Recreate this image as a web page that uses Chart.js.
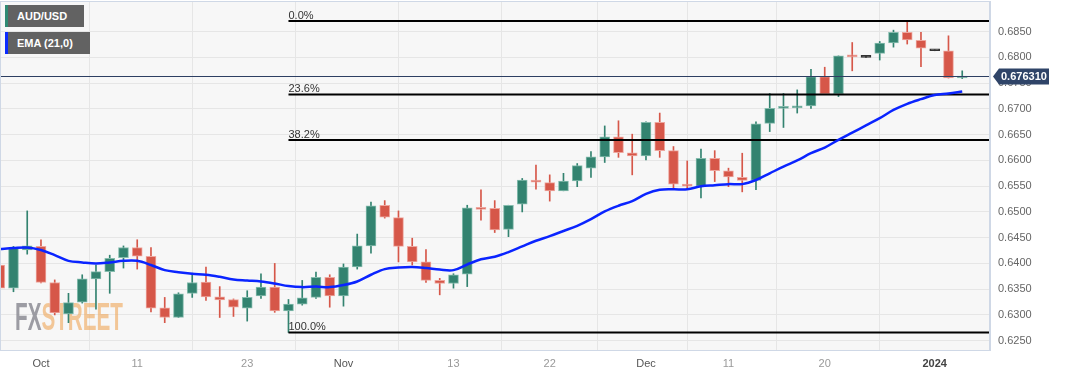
<!DOCTYPE html>
<html>
<head>
<meta charset="utf-8">
<title>AUD/USD daily</title>
<script src="https://cdn.jsdelivr.net/npm/chart.js@4.4.1/dist/chart.umd.min.js"></script>
<style>
  html, body { margin: 0; padding: 0; background: #fff; }
  #wrap { position: relative; width: 1067px; height: 376px; }
  .tag {
    position: absolute; left: 5px; height: 22px;
    background: #626262; color: #fff; box-sizing: border-box; padding-left: 9px;
    font: bold 11px "Liberation Sans", Arial, sans-serif;
    line-height: 22px;
  }
</style>
</head>
<body>
<div id="wrap">
  <canvas id="chart" width="1067" height="376"></canvas>
  <div class="tag" style="top:5px;width:79px;border-left:3px solid #2f8a73">AUD/USD</div>
  <div class="tag" style="top:32px;width:85px;border-left:3px solid #0b2bff">EMA (21,0)</div>
</div>
<script>
// Daily candles, late Sep 2023 -> 3 Jan 2024 (one entry per trading day)
const opens = [
  0.6397, 0.6352, 0.6426, 0.6433, 0.6363, 0.6302, 0.6325, 0.6370, 0.6384, 0.6411,
  0.6431, 0.6414, 0.6314, 0.6295, 0.6342, 0.6364, 0.6335, 0.6330, 0.6313, 0.6337,
  0.6354, 0.6308, 0.6321, 0.6334, 0.6373, 0.6337, 0.6393, 0.6434, 0.6513, 0.6489,
  0.6433, 0.6403, 0.6367, 0.6361, 0.6379, 0.6508, 0.6507, 0.6466, 0.6515, 0.6562,
  0.6557, 0.6541, 0.6560, 0.6585, 0.6607, 0.6646, 0.6615, 0.6609, 0.6674, 0.6619,
  0.6554, 0.6550, 0.6604, 0.6580, 0.6567, 0.6561, 0.6672, 0.6701, 0.6702, 0.6706,
  0.6763, 0.6729, 0.6803, 0.6800, 0.6808, 0.6828, 0.6849, 0.6833, 0.6813, 0.6813,
  0.6760
];
const highs = [
  0.6411, 0.6433, 0.6502, 0.6446, 0.6368, 0.6342, 0.6378, 0.6397, 0.6416, 0.6434,
  0.6446, 0.6431, 0.6334, 0.6343, 0.6381, 0.6393, 0.6355, 0.6331, 0.6347, 0.6380,
  0.6400, 0.6330, 0.6367, 0.6383, 0.6378, 0.6399, 0.6457, 0.6519, 0.6522, 0.6502,
  0.6449, 0.6427, 0.6371, 0.6380, 0.6513, 0.6543, 0.6522, 0.6513, 0.6565, 0.6591,
  0.6572, 0.6575, 0.6594, 0.6617, 0.6667, 0.6677, 0.6651, 0.6675, 0.6692, 0.6627,
  0.6599, 0.6622, 0.6619, 0.6585, 0.6614, 0.6675, 0.6730, 0.6730, 0.6737, 0.6777,
  0.6781, 0.6803, 0.6829, 0.6800, 0.6831, 0.6853, 0.6871, 0.6849, 0.6813, 0.6842,
  0.6774
];
const lows = [
  0.6331, 0.6345, 0.6418, 0.6362, 0.6300, 0.6285, 0.6323, 0.6311, 0.6342, 0.6391,
  0.6389, 0.6306, 0.6285, 0.6295, 0.6334, 0.6328, 0.6295, 0.6297, 0.6288, 0.6332,
  0.6305, 0.6266, 0.6319, 0.6332, 0.6315, 0.6317, 0.6389, 0.6420, 0.6488, 0.6403,
  0.6397, 0.6363, 0.6339, 0.6352, 0.6355, 0.6484, 0.6460, 0.6452, 0.6500, 0.6544,
  0.6521, 0.6541, 0.6549, 0.6567, 0.6596, 0.6606, 0.6572, 0.6601, 0.6606, 0.6544,
  0.6546, 0.6527, 0.6559, 0.6549, 0.6539, 0.6543, 0.6656, 0.6664, 0.6692, 0.6701,
  0.6728, 0.6724, 0.6774, 0.6800, 0.6795, 0.6820, 0.6826, 0.6782, 0.6813, 0.6760,
  0.6759
];
const closes = [
  0.6352, 0.6430, 0.6434, 0.6363, 0.6304, 0.6324, 0.6370, 0.6384, 0.6410, 0.6431,
  0.6414, 0.6313, 0.6295, 0.6341, 0.6363, 0.6335, 0.6329, 0.6315, 0.6334, 0.6354,
  0.6308, 0.6321, 0.6333, 0.6373, 0.6337, 0.6393, 0.6434, 0.6512, 0.6490, 0.6433,
  0.6403, 0.6367, 0.6361, 0.6378, 0.6508, 0.6505, 0.6465, 0.6513, 0.6562, 0.6558,
  0.6541, 0.6560, 0.6590, 0.6607, 0.6646, 0.6615, 0.6609, 0.6674, 0.6619, 0.6554,
  0.6550, 0.6604, 0.6580, 0.6568, 0.6561, 0.6671, 0.6701, 0.6704, 0.6706, 0.6763,
  0.6729, 0.6803, 0.6801, 0.6800, 0.6828, 0.6849, 0.6834, 0.6818, 0.6813, 0.6760,
  0.67631
];
// EMA(21)
const ema21 = [
  0.6428, 0.6430, 0.6431, 0.6426, 0.6416, 0.6405, 0.6402, 0.6400, 0.6402, 0.6405,
  0.6405, 0.6397, 0.6387, 0.6383, 0.6380, 0.6378, 0.6374, 0.6369, 0.6367, 0.6365,
  0.6361, 0.6356, 0.6354, 0.6355, 0.6354, 0.6358, 0.6365, 0.6378, 0.6389, 0.6392,
  0.6393, 0.6391, 0.6388, 0.6387, 0.6398, 0.6408, 0.6413, 0.6422, 0.6433, 0.6444,
  0.6453, 0.6463, 0.6473, 0.6486, 0.6501, 0.6512, 0.6521, 0.6535, 0.6543, 0.6544,
  0.6544, 0.6550, 0.6552, 0.6554, 0.6554, 0.6562, 0.6575, 0.6588, 0.6600, 0.6614,
  0.6625, 0.6640, 0.6654, 0.6668, 0.6682, 0.6698, 0.6710, 0.6719, 0.6727, 0.6730,
  0.6734
];
// x axis labels and the candle they sit under
const tickLabels = ['Oct', '11', '23', 'Nov', '13', '22', 'Dec', '11', '20', '2024'];
const tickIndex  = [3, 10, 18, 25, 33, 40, 47, 53, 60, 68];
const fibRatios  = [0, 0.236, 0.382, 1];
const fibNames   = ['0.0%', '23.6%', '38.2%', '100.0%'];

const X_MIN = 0.02, X_MAX = 72.02;
const Y_MIN = 0.62319, Y_MAX = 0.69096;
const FONT = '"Liberation Sans", Arial, sans-serif';

const UP = '#338370', DOWN = '#d65749', FLAT = '#333333';
const UP_EDGE = '#86bcae', DOWN_EDGE = '#eea79f';

function candleColor(i) {
  if (opens[i] === closes[i]) return FLAT;
  return closes[i] > opens[i] ? UP : DOWN;
}
function edgeColor(i) {
  if (opens[i] === closes[i]) return FLAT;
  return closes[i] > opens[i] ? UP_EDGE : DOWN_EDGE;
}

// Fibonacci retracement between the swing low and the high
const fibHigh = Math.max(...highs);
const fibLow = Math.min(...lows);
const fibStart = lows.indexOf(fibLow);
const fibLevels = fibRatios.map(r => fibHigh - r * (fibHigh - fibLow));
const lastClose = closes[closes.length - 1];

const bgPlugin = {
  id: 'bg',
  beforeDraw(chart) {
    const { ctx, chartArea: a } = chart;
    ctx.save();
    ctx.fillStyle = '#ffffff';
    ctx.fillRect(0, 0, chart.width, chart.height);
    ctx.fillStyle = '#f7f7f7';
    ctx.fillRect(a.left, a.top, a.right - a.left, a.bottom - a.top);
    ctx.restore();
  },
  beforeDatasetsDraw(chart) {
    // FXSTREET watermark
    const { ctx } = chart;
    ctx.save();
    ctx.font = 'bold 39px ' + FONT;
    const w1 = ctx.measureText('FX').width;
    const w2 = ctx.measureText('STREET').width;
    const sx = 108 / (w1 + w2);
    ctx.translate(15, 330);
    ctx.scale(sx, 1);
    ctx.textBaseline = 'alphabetic';
    ctx.fillStyle = 'rgba(140,140,148,0.85)';
    ctx.fillText('FX', 0, 0);
    ctx.fillStyle = 'rgba(240,172,100,0.65)';
    ctx.fillText('STREET', w1, 0);
    ctx.restore();
  },
  afterDatasetsDraw(chart) {
    const { ctx, chartArea: a, scales: { x, y } } = chart;
    ctx.save();
    // fib labels
    ctx.font = '11px ' + FONT;
    ctx.fillStyle = '#333';
    ctx.textBaseline = 'alphabetic';
    fibLevels.forEach((lv, k) => {
      ctx.fillText(fibNames[k], x.getPixelForValue(fibStart), y.getPixelForValue(lv) - 2);
    });
    // last price line
    const py = Math.round(y.getPixelForValue(lastClose)) + 0.5;
    ctx.strokeStyle = '#2d3f62';
    ctx.lineWidth = 1;
    ctx.beginPath();
    ctx.moveTo(a.left, py);
    ctx.lineTo(a.right, py);
    ctx.stroke();
    // frame
    ctx.strokeStyle = '#cfd8e6';
    ctx.strokeRect(a.left + 0.5, a.top + 0.5, a.right - a.left - 1, a.bottom - a.top);
    ctx.restore();
  },
  afterDraw(chart) {
    const { ctx, chartArea: a, scales: { y } } = chart;
    const py = y.getPixelForValue(lastClose);
    const x0 = a.right + 3;
    ctx.save();
    ctx.fillStyle = '#2f4468';
    ctx.beginPath();
    ctx.moveTo(x0, py);
    ctx.lineTo(x0 + 6, py - 8);
    ctx.lineTo(x0 + 56, py - 8);
    ctx.lineTo(x0 + 56, py + 8);
    ctx.lineTo(x0 + 6, py + 8);
    ctx.closePath();
    ctx.fill();
    ctx.fillStyle = '#ffffff';
    ctx.font = 'bold 11px ' + FONT;
    ctx.textBaseline = 'middle';
    ctx.fillText(lastClose.toFixed(6), x0 + 8, py + 0.5);
    ctx.restore();
  }
};

const fibSets = fibLevels.map(lv => ({
  type: 'line',
  data: [{ x: fibStart, y: lv }, { x: X_MAX, y: lv }],
  borderColor: '#000',
  borderWidth: 2,
  pointRadius: 0,
  order: 1
}));

new Chart(document.getElementById('chart'), {
  type: 'bar',
  data: {
    datasets: [
      {
        // wicks
        data: lows.map((l, i) => ({ x: i, y: [l, highs[i]] })),
        backgroundColor: c => candleColor(c.dataIndex),
        barThickness: 1,
        minBarLength: 1,
        grouped: false,
        order: 3
      },
      {
        // bodies
        data: opens.map((o, i) => ({ x: i, y: [o, closes[i]] })),
        backgroundColor: c => candleColor(c.dataIndex),
        borderColor: c => edgeColor(c.dataIndex),
        borderWidth: 1,
        borderSkipped: false,
        barThickness: 10,
        minBarLength: 2,
        grouped: false,
        order: 2
      },
      ...fibSets,
      {
        type: 'line',
        data: ema21.map((v, i) => ({ x: i, y: v })),
        borderColor: '#0a24ff',
        borderWidth: 2.5,
        pointRadius: 0,
        tension: 0.35,
        order: 0
      }
    ]
  },
  options: {
    responsive: false,
    animation: false,
    devicePixelRatio: 1,
    layout: { padding: { top: 1, left: 0, right: 0, bottom: 0 } },
    plugins: { legend: { display: false }, tooltip: { enabled: false } },
    scales: {
      x: {
        type: 'linear',
        min: X_MIN,
        max: X_MAX,
        offset: false,
        afterBuildTicks: s => { s.ticks = tickIndex.map(v => ({ value: v })); },
        afterFit: s => { s.height = 26; s.paddingLeft = 0; s.paddingRight = 0; },
        grid: { color: '#e6e6e6', drawTicks: false },
        border: { color: '#cfd8e6' },
        ticks: {
          autoSkip: false,
          maxRotation: 0,
          padding: 7,
          callback: (v, i) => tickLabels[i],
          color: c => tickLabels[c.index] === '2024' ? '#444' : (isNaN(tickLabels[c.index]) ? '#555' : '#999'),
          font: c => ({ family: FONT, size: 11, weight: tickLabels[c.index] === '2024' ? 'bold' : 'normal' })
        }
      },
      y: {
        position: 'right',
        min: Y_MIN,
        max: Y_MAX,
        afterBuildTicks: s => { s.ticks = s.ticks.filter(t => t.value < s.max - 0.002); },
        afterFit: s => { s.width = 77; s.paddingTop = 0; s.paddingBottom = 0; },
        grid: { color: '#e6e6e6', drawTicks: false },
        border: { color: '#cfd8e6' },
        ticks: {
          stepSize: 0.005,
          includeBounds: false,
          padding: 8,
          color: '#666',
          font: { family: FONT, size: 11 },
          callback: v => v.toFixed(4)
        }
      }
    }
  },
  plugins: [bgPlugin]
});
</script>
</body>
</html>
